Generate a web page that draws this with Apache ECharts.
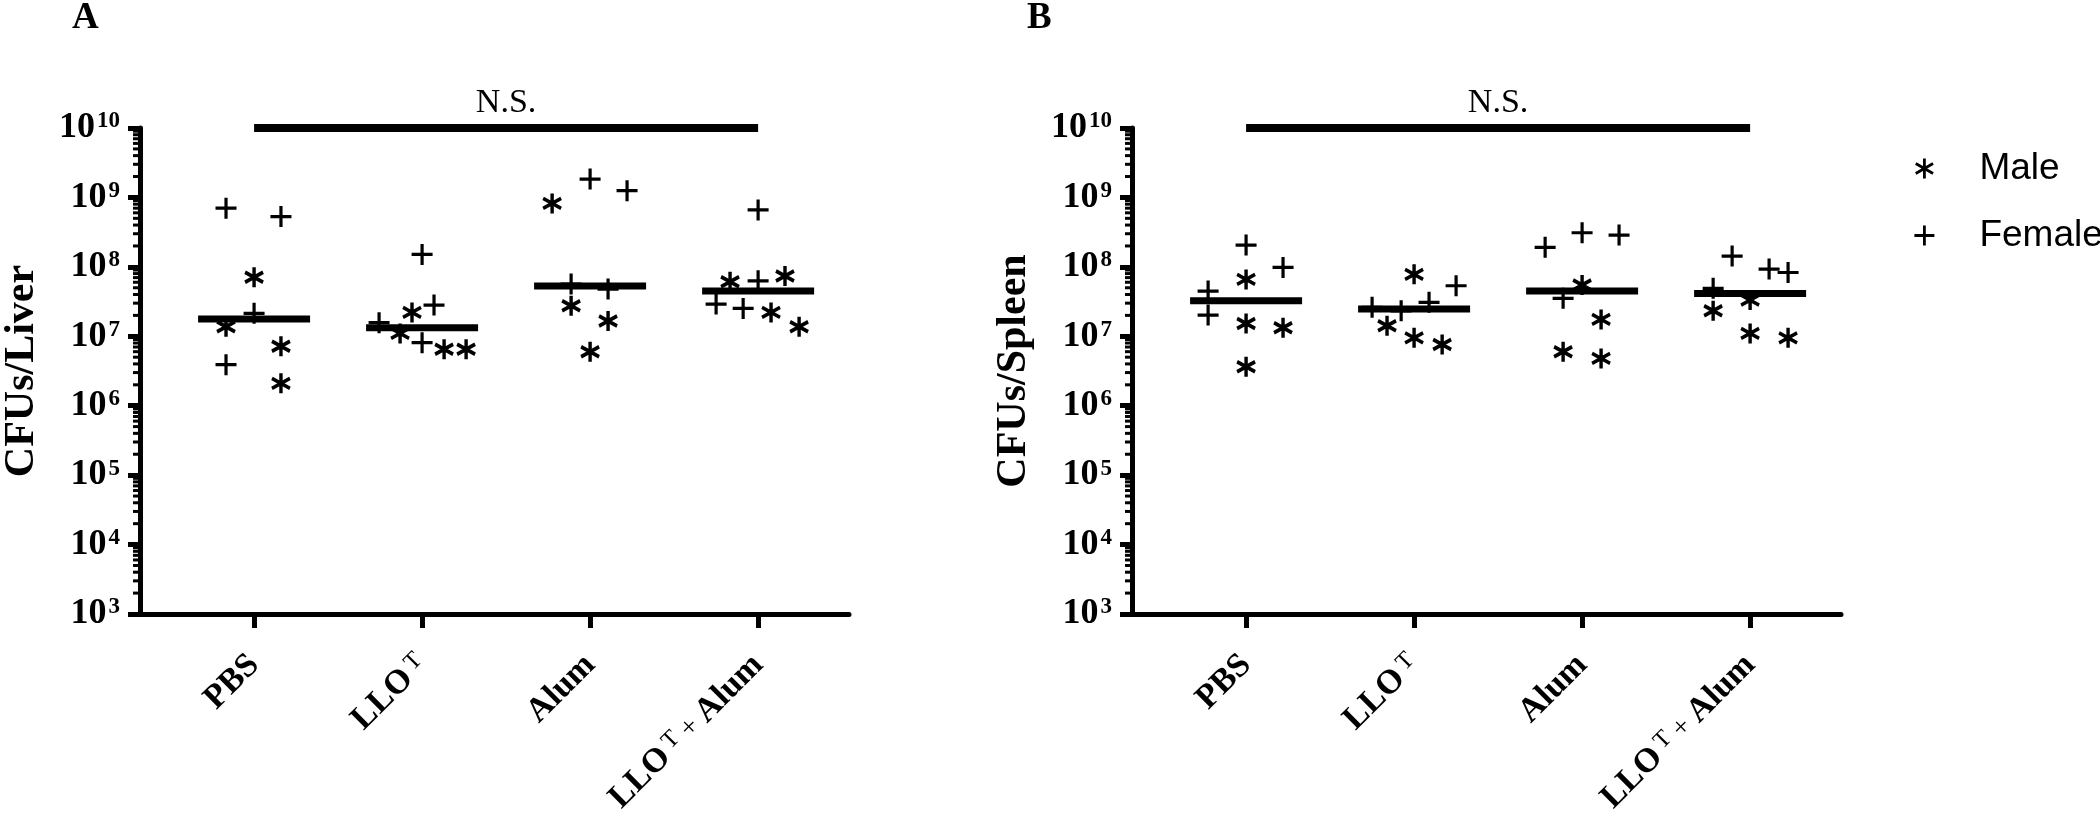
<!DOCTYPE html>
<html>
<head>
<meta charset="utf-8">
<script src="https://cdn.jsdelivr.net/npm/echarts@6/dist/echarts.min.js"></script>
<style>html,body{margin:0;padding:0;background:#fff}#c{width:2100px;height:820px}</style>
</head>
<body>
<div id="c"></div>
<script>
// ---------------- data ----------------
const categories = ['PBS', 'LLO\u1D40', 'Alum', 'LLO\u1D40 + Alum'];
const categoryLabels = ['{b|PBS}', '{b|LLO}{s|T}', '{b|Alum}', '{b|LLO}{s|T}{n| + }{b|Alum}'];
const categoryPositions = [1, 2, 3, 4];
const yTickExponents = [3, 4, 5, 6, 7, 8, 9, 10];
const minorMantissas = [2, 3, 4, 5, 6, 7, 8, 9];
const panelLetters = ['A', 'B'];
const yTitles = ['CFUs/Liver', 'CFUs/Spleen'];
const sigText = 'N.S.';

// [x position = group + jitter, CFUs]
const liverMale = [
  [1.00, 7.1e7], [0.833, 1.37e7], [1.16, 7.2e6], [1.16, 2.1e6],
  [1.94, 2.21e7], [1.869, 1.1e7], [2.131, 6.5e6], [2.262, 6.5e6],
  [2.774, 8.2e8], [2.887, 2.75e7], [3.107, 1.66e7], [3.00, 5.98e6],
  [4.16, 7.37e7], [3.833, 6.1e7], [4.077, 2.21e7], [4.244, 1.37e7]
];
const liverFemale = [
  [0.833, 7.0e8], [1.16, 5.3e8], [1.00, 2.14e7], [0.833, 3.9e6],
  [2.00, 1.51e8], [2.071, 2.82e7], [1.744, 1.57e7], [2.00, 8.1e6],
  [3.00, 1.84e9], [3.22, 1.25e9], [2.887, 5.65e7], [3.107, 4.79e7],
  [4.00, 6.6e8], [4.00, 6.3e7], [3.75, 2.91e7], [3.911, 2.52e7]
];
const liverMedian = [1.77e7, 1.33e7, 5.29e7, 4.48e7];

const spleenMale = [
  [1.00, 6.6e7], [1.00, 1.53e7], [1.22, 1.33e7], [1.00, 3.64e6],
  [2.00, 7.8e7], [1.839, 1.42e7], [2.00, 9.5e6], [2.167, 7.6e6],
  [3.00, 5.47e7], [3.113, 1.75e7], [2.887, 5.98e6], [3.113, 4.8e6],
  [4.00, 3.32e7], [3.78, 2.33e7], [4.00, 1.1e7], [4.226, 9.5e6]
];
const spleenFemale = [
  [1.00, 2.06e8], [1.22, 9.8e7], [0.774, 4.48e7], [0.774, 2.02e7],
  [2.25, 5.34e7], [2.089, 3.08e7], [1.75, 2.61e7], [1.923, 2.33e7],
  [3.00, 3.1e8], [3.22, 2.87e8], [2.78, 1.91e8], [2.887, 3.52e7],
  [3.893, 1.43e8], [4.113, 9.3e7], [4.226, 8.3e7], [3.78, 4.9e7]
];
const spleenMedian = [3.25e7, 2.47e7, 4.48e7, 4.15e7];

const sigSpan = [1, 4];

// ---------------- style ----------------
const SERIF = '"Liberation Serif", "Times New Roman", serif';
const SANS = '"Liberation Sans", Arial, sans-serif';
const PLUS = 'path://M10,0 L10,20 M0,10 L20,10';
const STAR = 'path://M10,0 L10,20 M1.34,5 L18.66,15 M1.34,15 L18.66,5';
const X_MIN = 0.321, X_MAX = 4.541;
const Y_MIN = Math.pow(10, yTickExponents[0]);
const Y_MAX = Math.pow(10, yTickExponents[yTickExponents.length - 1]);

const panels = [
  { male: liverMale, female: liverFemale, median: liverMedian, left: 140 },
  { male: spleenMale, female: spleenFemale, median: spleenMedian, left: 1132 }
];

const grids = panels.map(p => ({ left: p.left, top: 128, width: 709, height: 486, outerBoundsMode: 'none', containLabel: false }));

const xAxes = panels.map((p, i) => ({
  type: 'value', gridIndex: i, min: X_MIN, max: X_MAX,
  axisLine: { show: true, lineStyle: { color: '#000', width: 5 } },
  axisTick: { show: true, customValues: categoryPositions, length: 14, lineStyle: { color: '#000', width: 5 } },
  axisLabel: {
    customValues: categoryPositions, rotate: 45, margin: 46,
    formatter: v => categoryLabels[categoryPositions.indexOf(Math.round(v))],
    rich: {
      b: { fontFamily: SERIF, fontWeight: 'bold', fontSize: 34, color: '#000' },
      s: { fontFamily: SERIF, fontSize: 24, color: '#000', verticalAlign: 'top', padding: [0, 0, 0, 5] },
      n: { fontFamily: SERIF, fontSize: 28, color: '#000' }
    }
  },
  splitLine: { show: false }
}));

const yAxes = panels.map((p, i) => ({
  type: 'log', logBase: 10, gridIndex: i, min: Y_MIN, max: Y_MAX, splitNumber: 7,
  name: yTitles[i], nameLocation: 'middle', nameGap: 97,
  nameTextStyle: { fontFamily: SERIF, fontWeight: 'bold', fontSize: 42, color: '#000' },
  axisLine: { show: true, lineStyle: { color: '#000', width: 5 } },
  axisTick: { show: true, length: 12, lineStyle: { color: '#000', width: 5 } },
  axisLabel: {
    margin: 20,
    formatter: v => '{b|10}{s|' + yTickExponents[yTickExponents.indexOf(Math.round(Math.log10(v)))] + '}',
    rich: {
      b: { fontFamily: SERIF, fontWeight: 'bold', fontSize: 36, color: '#000' },
      s: { fontFamily: SERIF, fontWeight: 'bold', fontSize: 23, color: '#000', verticalAlign: 'top', padding: [0, 0, 0, 2] }
    }
  },
  splitLine: { show: false }
}));

const series = [];
panels.forEach((p, i) => {
  // minor log ticks on the y axis
  const minor = [];
  for (let e = yTickExponents[0]; e < yTickExponents[yTickExponents.length - 1]; e++) {
    minorMantissas.forEach(m => minor.push([X_MIN, m * Math.pow(10, e)]));
  }
  series.push({
    type: 'custom', xAxisIndex: i, yAxisIndex: i, silent: true, data: minor, z: 5,
    renderItem: (params, api) => {
      const pt = api.coord([api.value(0), api.value(1)]);
      return { type: 'line', shape: { x1: pt[0] - 7, y1: pt[1], x2: pt[0], y2: pt[1] },
               style: { stroke: '#000', lineWidth: 3 } };
    }
  });
  series.push({
    name: 'Male', type: 'scatter', xAxisIndex: i, yAxisIndex: i, data: p.male,
    symbol: STAR, symbolSize: [18, 20],
    itemStyle: { color: '#000', borderColor: '#000', borderWidth: 3.6, opacity: 1 }
  });
  series.push({
    name: 'Female', type: 'scatter', xAxisIndex: i, yAxisIndex: i, data: p.female,
    symbol: PLUS, symbolSize: [21, 21],
    itemStyle: { color: '#000', borderColor: '#000', borderWidth: 3.2, opacity: 1 }
  });
  series.push({
    type: 'scatter', xAxisIndex: i, yAxisIndex: i, silent: true, z: 3,
    data: p.median.map((m, k) => [categoryPositions[k], m]),
    symbol: 'rect', symbolSize: [112, 7], itemStyle: { color: '#000', opacity: 1 }
  });
  series.push({
    type: 'line', xAxisIndex: i, yAxisIndex: i, silent: true, clip: false,
    data: sigSpan.map(x => [x, Y_MAX]), symbol: 'none',
    lineStyle: { color: '#000', width: 8, opacity: 1 }
  });
  series.push({
    type: 'scatter', xAxisIndex: i, yAxisIndex: i, silent: true, clip: false,
    data: [[(sigSpan[0] + sigSpan[1]) / 2, Y_MAX]], symbolSize: 0,
    itemStyle: { opacity: 1 },
    label: { show: true, position: 'top', distance: 8, formatter: sigText,
             fontFamily: SERIF, fontSize: 34, color: '#000' }
  });
});

const chart = echarts.init(document.getElementById('c'), null, { renderer: 'canvas' });
chart.setOption({
  animation: false,
  backgroundColor: '#fff',
  title: [
    { text: panelLetters[0], left: 72, top: 0, padding: 0,
      textStyle: { fontFamily: SERIF, fontWeight: 'bold', fontSize: 37, color: '#000' } },
    { text: panelLetters[1], left: 1027, top: 0, padding: 0,
      textStyle: { fontFamily: SERIF, fontWeight: 'bold', fontSize: 37, color: '#000' } }
  ],
  legend: {
    data: [{ name: 'Male', icon: STAR }, { name: 'Female', icon: PLUS }],
    orient: 'vertical', left: 1908, top: 145, itemWidth: 20, itemHeight: 20, itemGap: 30,
    selectedMode: false,
    itemStyle: { color: '#000', borderColor: '#000', borderWidth: 2.8, opacity: 1 },
    textStyle: { fontFamily: SANS, fontSize: 37, color: '#000', padding: [0, 0, 0, 40], lineHeight: 37 }
  },
  grid: grids,
  xAxis: xAxes,
  yAxis: yAxes,
  series: series
});
</script>
</body>
</html>
